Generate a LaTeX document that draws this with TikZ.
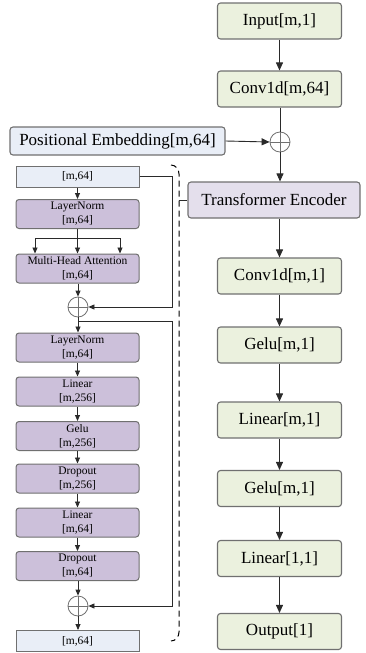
\documentclass[tikz,border=0pt]{standalone}
\usepackage{fontspec}
\setmainfont{Liberation Serif}
\newfontfamily\timesfont{Liberation Serif}
\usetikzlibrary{arrows.meta,calc}
\definecolor{gfill}{HTML}{EBF1DE}
\definecolor{bfill}{HTML}{E9EEF7}
\definecolor{tefill}{HTML}{E4DFEC}
\definecolor{pfill}{HTML}{CCC0DA}
\definecolor{bord}{HTML}{707070}
\definecolor{conn}{HTML}{2A2A2A}
\tikzset{
  bigbox/.style={draw=bord,line width=1.1pt,rounded corners=3pt,minimum width=124pt,minimum height=36pt,inner sep=0pt,font=\timesfont\fontsize{17}{20}\selectfont},
  greenbox/.style={bigbox,fill=gfill},
  smallbox/.style={draw=bord,line width=1pt,rounded corners=3pt,minimum width=123pt,minimum height=29pt,inner sep=0pt,align=center,font=\timesfont\fontsize{11.5}{14}\selectfont,fill=pfill},
  flatbox/.style={draw=bord,line width=1pt,minimum width=123pt,minimum height=21pt,inner sep=0pt,font=\timesfont\fontsize{11.5}{14}\selectfont,fill=bfill},
  plusnode/.style={circle,draw=bord,line width=0.8pt,minimum size=#1,inner sep=0pt,
    path picture={\draw[bord,line width=0.8pt] (path picture bounding box.north) -- (path picture bounding box.south) (path picture bounding box.west) -- (path picture bounding box.east);}},
  bigarrow/.style={draw=conn,line width=0.9pt,-{Triangle[length=8pt,width=7pt]}},
  smallarrow/.style={draw=conn,line width=0.8pt,-{Triangle[length=6pt,width=5pt]}},
  plainline/.style={draw=conn,line width=0.8pt},
  bracketline/.style={draw=black,line width=1pt,dash pattern=on 6pt off 4pt},
}
\begin{document}
\begin{tikzpicture}[x=1pt,y=-1pt]
\useasboundingbox (0,0) rectangle (365,653);
% right column
\node[greenbox] (input) at (279.5,21) {Input[m,1]};
\node[greenbox] (conv1) at (279.5,89) {Conv1d[m,64]};
\node[plusnode=20pt] (plus0) at (280,142) {};
\node[bigbox,fill=bfill,minimum width=215pt,minimum height=28pt] (pe) at (117.5,141) {Positional Embedding[m,64]};
\node[bigbox,fill=tefill,minimum width=172pt] (te) at (274,200) {Transformer Encoder};
\node[greenbox] (conv2) at (279.5,276) {Conv1d[m,1]};
\node[greenbox] (gelu1) at (279.5,345) {Gelu[m,1]};
\node[greenbox] (lin1) at (279.5,420) {Linear[m,1]};
\node[greenbox] (gelu2) at (279.5,488.5) {Gelu[m,1]};
\node[greenbox] (lin2) at (279.5,558.5) {Linear[1,1]};
\node[greenbox] (outp) at (279.5,631.5) {Output[1]};
\draw[bigarrow] (input) -- (conv1);
\draw[plainline,line width=0.9pt] (conv1.south -| plus0) -- (plus0.north);
\draw[bigarrow] (pe.east) -- (plus0.west);
\draw[bigarrow] (plus0.south) -- (plus0.south |- te.north);
\draw[bigarrow] (te.south -| conv2) -- (conv2.north);
\draw[bigarrow] (conv2) -- (gelu1);
\draw[bigarrow] (gelu1) -- (lin1);
\draw[bigarrow] (lin1) -- (gelu2);
\draw[bigarrow] (gelu2) -- (lin2);
\draw[bigarrow] (lin2) -- (outp);
% left column (encoder detail)
\node[flatbox] (xin) at (77.5,176.5) {[m,64]};
\node[smallbox] (ln1) at (77.5,214) {LayerNorm\\{}[m,64]};
\node[smallbox] (mha) at (77.5,268.5) {Multi-Head Attention\\{}[m,64]};
\node[plusnode=20pt] (plus1) at (78,307) {};
\node[smallbox] (ln2) at (77.5,347.5) {LayerNorm\\{}[m,64]};
\node[smallbox] (fl1) at (77.5,391.5) {Linear\\{}[m,256]};
\node[smallbox] (fg) at (77.5,436) {Gelu\\{}[m,256]};
\node[smallbox] (fd1) at (77.5,478.5) {Dropout\\{}[m,256]};
\node[smallbox] (fl2) at (77.5,522.5) {Linear\\{}[m,64]};
\node[smallbox] (fd2) at (77.5,566) {Dropout\\{}[m,64]};
\node[plusnode=20pt] (plus2) at (78,606) {};
\node[flatbox] (xout) at (77.5,641) {[m,64]};
\draw[smallarrow] (xin.south -| ln1) -- (ln1.north);
\coordinate (sp) at (77.5,238);
\coordinate (spl) at (35,238);
\coordinate (spr) at (120,238);
\draw[plainline] (ln1.south) -- (sp);
\draw[plainline] (spl) -- (spr);
\draw[smallarrow] (spl) -- (spl |- mha.north);
\draw[smallarrow] (sp) -- (mha.north);
\draw[smallarrow] (spr) -- (spr |- mha.north);
\draw[smallarrow] (mha.south -| plus1) -- (plus1.north);
\draw[smallarrow] (plus1.south) -- (plus1.south |- ln2.north);
\draw[smallarrow] (ln2) -- (fl1);
\draw[smallarrow] (fl1) -- (fg);
\draw[smallarrow] (fg) -- (fd1);
\draw[smallarrow] (fd1) -- (fl2);
\draw[smallarrow] (fl2) -- (fd2);
\draw[smallarrow] (fd2.south -| plus2) -- (plus2.north);
\draw[smallarrow] (plus2.south) -- (plus2.south |- xout.north);
% residual connections
\coordinate (r1) at (172.5,176.5);
\draw[smallarrow] (xin.east) -- (r1) |- (plus1.east);
\coordinate (r2a) at (78,321);
\coordinate (r2b) at (172.5,321);
\draw[smallarrow] (r2a) -- (r2b) |- (plus2.east);
% dashed bracket
\coordinate (bt) at (171,165);
\coordinate (bb) at (171,641);
\coordinate (bm) at (179,200);
\draw[bracketline] (bt) to[out=0,in=90] (179,174) -- (179,632) to[out=-90,in=0] (bb);
\draw[plainline] (bm) -- (te.west);
\end{tikzpicture}
\end{document}
